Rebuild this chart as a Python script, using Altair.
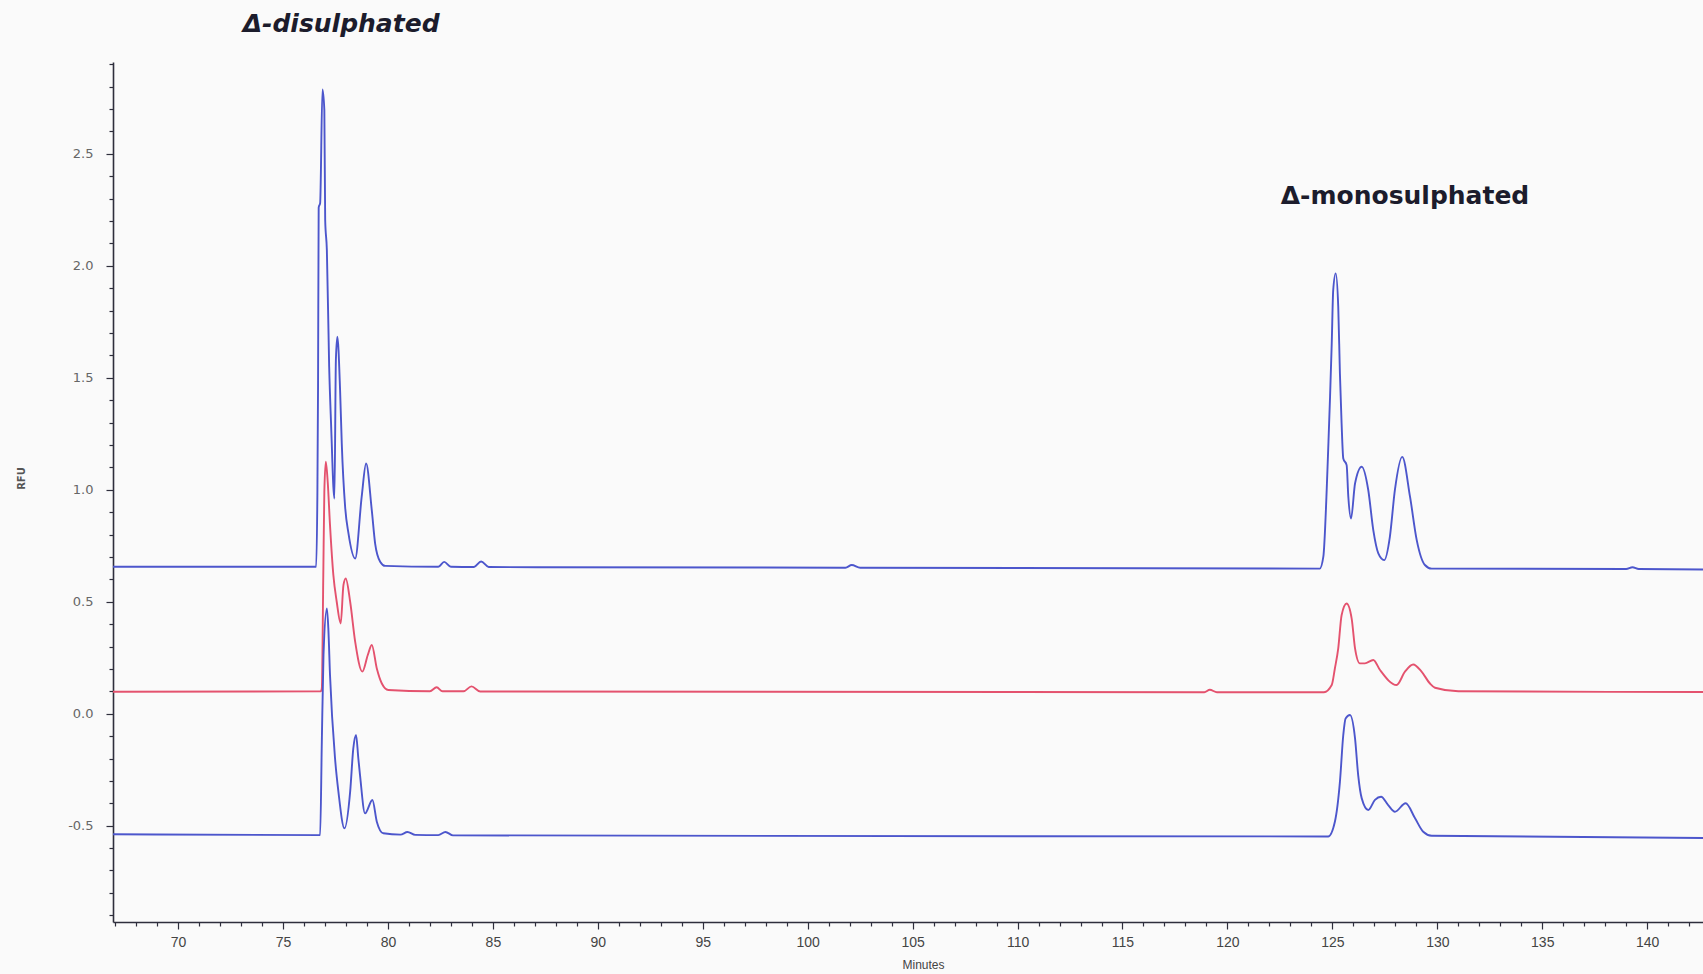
import altair as alt
import pandas as pd

# Chromatogram traces: (retention time in minutes, RFU)
upper_blue = [
    (66.9, 0.656), (76.58, 0.656), (76.64, 1.0), (76.67, 1.46), (76.70, 2.26),
    (76.77, 2.28), (76.88, 2.787), (76.97, 2.695), (77.01, 2.204), (77.09, 2.07),
    (77.20, 1.549), (77.29, 1.296), (77.45, 0.961), (77.52, 1.579), (77.59, 1.683),
    (77.72, 1.445), (77.80, 1.207), (77.96, 0.924), (78.12, 0.805), (78.44, 0.693),
    (78.75, 0.969), (78.96, 1.117), (79.23, 0.909), (79.39, 0.76), (79.63, 0.679),
    (79.87, 0.66), (82.4, 0.656), (82.68, 0.678), (83.0, 0.656), (84.1, 0.655),
    (84.44, 0.68), (84.8, 0.655), (101.8, 0.652), (102.1, 0.664), (102.5, 0.652),
    (124.4, 0.648), (124.57, 0.701), (124.73, 0.999), (124.80, 1.177), (124.89, 1.415),
    (124.97, 1.653), (125.04, 1.891), (125.16, 1.966), (125.28, 1.817), (125.36, 1.519),
    (125.44, 1.296), (125.52, 1.14), (125.68, 1.11), (125.76, 0.969), (125.89, 0.872),
    (126.08, 1.028), (126.40, 1.103), (126.71, 0.999), (126.95, 0.82), (127.19, 0.716),
    (127.47, 0.686), (127.74, 0.79), (127.98, 0.999), (128.33, 1.147), (128.70, 0.969),
    (129.02, 0.775), (129.41, 0.664), (129.73, 0.648), (139.0, 0.646), (139.3, 0.654),
    (139.6, 0.646), (142.66, 0.644),
]

middle_red = [
    (66.9, 0.098), (76.80, 0.100), (76.85, 0.113), (76.92, 0.619), (76.97, 0.991),
    (77.04, 1.125), (77.13, 1.036), (77.24, 0.842), (77.40, 0.619), (77.56, 0.50),
    (77.75, 0.403), (77.88, 0.574), (77.99, 0.604), (78.20, 0.50), (78.44, 0.321),
    (78.78, 0.188), (79.04, 0.262), (79.23, 0.307), (79.47, 0.202), (79.71, 0.135),
    (80.02, 0.106), (82.0, 0.100), (82.32, 0.118), (82.6, 0.100), (83.6, 0.100),
    (83.98, 0.122), (84.4, 0.099), (118.9, 0.096), (119.16, 0.107), (119.5, 0.096),
    (124.6, 0.096), (124.97, 0.128), (125.12, 0.202), (125.28, 0.292), (125.44, 0.44),
    (125.68, 0.492), (125.92, 0.425), (126.08, 0.292), (126.31, 0.225), (126.55, 0.225),
    (126.95, 0.24), (127.27, 0.195), (128.06, 0.128), (128.46, 0.188), (128.85, 0.22),
    (129.25, 0.188), (129.65, 0.135), (129.89, 0.116), (131.0, 0.100), (142.66, 0.097),
]

lower_blue = [
    (66.9, -0.538), (76.77, -0.542), (76.85, -0.125), (76.93, 0.262), (77.09, 0.47),
    (77.16, 0.381), (77.24, 0.173), (77.48, -0.2), (77.64, -0.348), (77.93, -0.512),
    (78.20, -0.348), (78.35, -0.155), (78.48, -0.095), (78.59, -0.2), (78.67, -0.274),
    (78.91, -0.445), (79.26, -0.385), (79.47, -0.482), (79.78, -0.534), (80.6, -0.540),
    (80.93, -0.528), (81.3, -0.541), (82.4, -0.542), (82.74, -0.528), (83.1, -0.543),
    (124.80, -0.548), (125.12, -0.482), (125.36, -0.304), (125.52, -0.095), (125.63, -0.021),
    (125.84, -0.006), (126.08, -0.11), (126.23, -0.274), (126.40, -0.378), (126.71, -0.43),
    (127.03, -0.385), (127.32, -0.371), (127.66, -0.408), (127.98, -0.4375), (128.49, -0.40),
    (128.94, -0.467), (129.33, -0.527), (129.73, -0.545), (142.66, -0.555),
]

trace_names = ["upper", "middle", "lower"]
trace_colors = ["#4c56cc", "#e4526e", "#4c56cc"]

# Peak-group labels
ann_labels = ["\u0394-disulphated", "\u0394-monosulphated"]
ann_minutes = [77.77, 128.46]
ann_rfu = [3.08, 2.31]

# Axis ticks: major every 5 min / 0.5 RFU, minor every 1 min / 0.1 RFU
x_ticks = list(range(67, 143))
y_ticks = [round(-0.9 + 0.1 * i, 1) for i in range(39)]

rows = []
for name, pts in zip(trace_names, [upper_blue, middle_red, lower_blue]):
    for t, v in pts:
        rows.append({"trace": name, "minutes": t, "rfu": v})
df = pd.DataFrame(rows)

x_scale = alt.Scale(domain=[66.9, 142.66], nice=False, zero=False)
y_scale = alt.Scale(domain=[-0.93, 2.91], nice=False, zero=False)

axis_color = "#2e2e3c"
y_major = "abs(datum.value * 2 - round(datum.value * 2)) < 0.001"

x_axis = alt.Axis(
    values=x_ticks,
    tickCount=500,
    format="d",
    title="Minutes",
    labelExpr="datum.value % 5 === 0 ? format(datum.value, 'd') : ''",
    tickSize={"condition": {"test": "datum.value % 5 === 0", "value": 7}, "value": 4},
    labelOverlap=False,
    labelFlush=False,
    grid=False,
    domainColor=axis_color,
    domainWidth=1.6,
    tickColor=axis_color,
    tickWidth=1.2,
    labelFont="Liberation Sans Narrow, Liberation Sans",
    labelFontSize=14,
    labelColor="#444444",
    labelPadding=6,
    titleFont="Liberation Sans",
    titleFontSize=12,
    titleFontWeight="normal",
    titleColor="#444444",
    titleX=810,
    titleY=37,
)

y_axis = alt.Axis(
    values=y_ticks,
    tickCount=500,
    title="RFU",
    labelExpr=(y_major + " ? (datum.value < 0 ? '-' + format(-datum.value, '.1f')"
               " : format(datum.value, '.1f')) : ''"),
    tickSize={"condition": {"test": y_major, "value": 7}, "value": 4},
    labelOverlap=False,
    labelFlush=False,
    grid=False,
    domainColor=axis_color,
    domainWidth=1.6,
    tickColor=axis_color,
    tickWidth=1.2,
    labelFont="DejaVu Sans",
    labelFontSize=13,
    labelColor="#666666",
    labelPadding=13,
    titleFont="DejaVu Sans",
    titleFontSize=10,
    titleFontWeight="bold",
    titleColor="#555555",
    titleX=-87,
    titleY=416,
)

lines = alt.Chart(df).mark_line(strokeWidth=1.9, interpolate="monotone").encode(
    x=alt.X("minutes:Q", scale=x_scale, axis=x_axis),
    y=alt.Y("rfu:Q", scale=y_scale, axis=y_axis),
    color=alt.Color("trace:N", scale=alt.Scale(domain=trace_names, range=trace_colors), legend=None),
    detail="trace:N",
)

ann_df = pd.DataFrame({"label": ann_labels, "minutes": ann_minutes, "rfu": ann_rfu})

ann_italic = alt.Chart(ann_df.iloc[[0]]).mark_text(
    font="DejaVu Sans", fontSize=25, fontWeight="bold", fontStyle="italic",
    color="#1c1c2c", align="center", baseline="middle",
).encode(x=alt.X("minutes:Q", scale=x_scale), y=alt.Y("rfu:Q", scale=y_scale), text="label:N")

ann_plain = alt.Chart(ann_df.iloc[[1]]).mark_text(
    font="DejaVu Sans", fontSize=25, fontWeight="bold",
    color="#1c1c2c", align="center", baseline="middle",
).encode(x=alt.X("minutes:Q", scale=x_scale), y=alt.Y("rfu:Q", scale=y_scale), text="label:N")

chart = alt.layer(lines, ann_italic, ann_plain).properties(
    width=1590,
    height=860,
    autosize="none",
    padding={"left": 113, "top": 62, "right": 0, "bottom": 52},
    background="#fafafa",
).configure_view(strokeWidth=0)

chart.save("out.html", embed_options={"renderer": "svg", "actions": False})
